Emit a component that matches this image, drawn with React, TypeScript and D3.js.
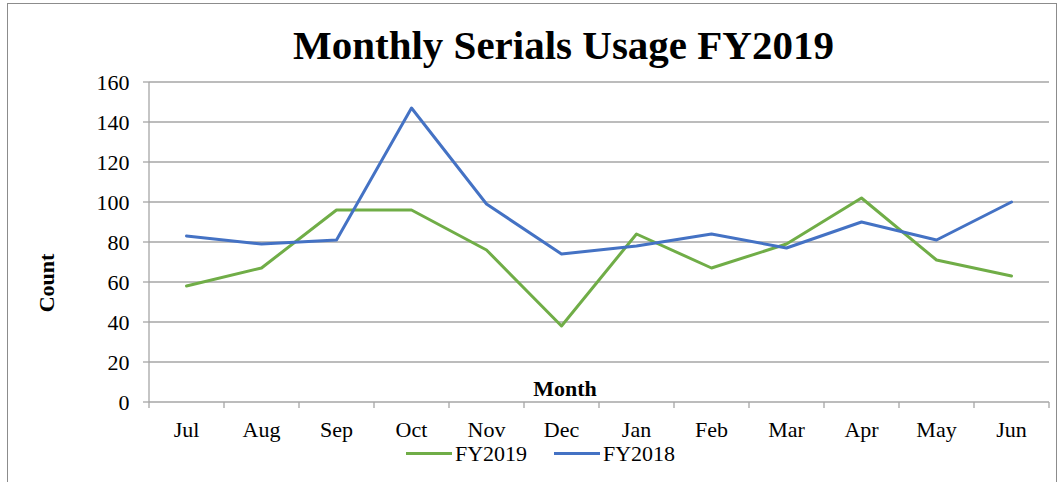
import React from "react";
import * as d3 from "d3";

const months = ["Jul", "Aug", "Sep", "Oct", "Nov", "Dec", "Jan", "Feb", "Mar", "Apr", "May", "Jun"];
const fy2019 = [58, 67, 96, 96, 76, 38, 84, 67, 79, 102, 71, 63];
const fy2018 = [83, 79, 81, 147, 99, 74, 78, 84, 77, 90, 81, 100];
const yTicks = [0, 20, 40, 60, 80, 100, 120, 140, 160];
const seriesNames = ["FY2019", "FY2018"];
const seriesColors = ["#70AD47", "#4472C4"];

export default function App() {
  const W = 1061, H = 482;
  const left = 149, right = 1049, top = 82, bottom = 402;
  const x = d3.scaleBand<string>().domain(months).range([left, right]);
  const y = d3.scaleLinear().domain([0, 160]).range([bottom, top]);
  const line = d3
    .line<number>()
    .x((_, i) => (x(months[i]) as number) + x.bandwidth() / 2)
    .y((d) => y(d));
  const font = "'Liberation Serif', 'Times New Roman', serif";
  const series = [fy2019, fy2018];
  const legendX = [406, 554];
  const fs = 22;
  return (
    <svg width={W} height={H} style={{ position: "absolute", left: 0, top: 0 }} fontFamily={font}>
      <rect x={7.5} y={3.5} width={1049} height={490} fill="#fff" stroke="#8c8c8c" strokeWidth={1} />
      <text x={563.5} y={59} textAnchor="middle" fontSize={41} fontWeight="bold" fill="#000">
        Monthly Serials Usage FY2019
      </text>
      {yTicks.map((t) => (
        <g key={t}>
          <line x1={left} x2={right} y1={y(t)} y2={y(t)} stroke="#a6a6a6" strokeWidth={1.3} />
          <line x1={143} x2={left} y1={y(t)} y2={y(t)} stroke="#a6a6a6" strokeWidth={1.3} />
          <text x={129.5} y={y(t)} dy="0.35em" textAnchor="end" fontSize={fs} fill="#000">
            {t}
          </text>
        </g>
      ))}
      <line x1={left} x2={left} y1={top} y2={bottom} stroke="#a6a6a6" strokeWidth={1.3} />
      {months.concat([""]).map((m, i) => {
        const xx = left + i * x.step();
        return <line key={"t" + i} x1={xx} x2={xx} y1={bottom} y2={bottom + 6} stroke="#a6a6a6" strokeWidth={1.3} />;
      })}
      {months.map((m) => (
        <text key={m} x={(x(m) as number) + x.bandwidth() / 2} y={437} textAnchor="middle" fontSize={fs} fill="#000">
          {m}
        </text>
      ))}
      <text x={565} y={396} textAnchor="middle" fontSize={fs} fontWeight="bold" fill="#000">
        Month
      </text>
      <text transform="translate(54,283) rotate(-90)" textAnchor="middle" fontSize={fs} fontWeight="bold" fill="#000">
        Count
      </text>
      {series.map((s, k) => (
        <path key={k} d={line(s) as string} fill="none" stroke={seriesColors[k]} strokeWidth={3} strokeLinejoin="round" strokeLinecap="round" />
      ))}
      {seriesNames.map((n, k) => (
        <g key={n}>
          <line x1={legendX[k]} x2={legendX[k] + 46} y1={453.5} y2={453.5} stroke={seriesColors[k]} strokeWidth={3} />
          <text x={legendX[k] + 49} y={461} fontSize={fs} fill="#000">
            {n}
          </text>
        </g>
      ))}
    </svg>
  );
}
